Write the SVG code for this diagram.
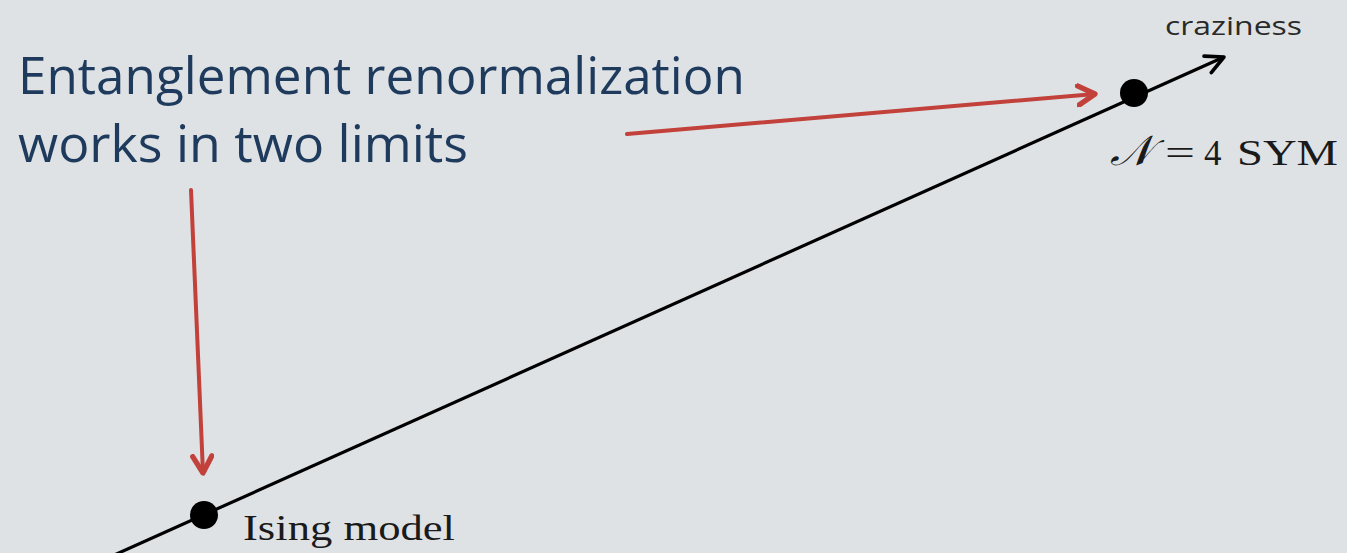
<svg xmlns="http://www.w3.org/2000/svg" width="1347" height="553" viewBox="0 0 1347 553">
<defs>
<style>
.title{font-family:"Open Sans","Liberation Sans",sans-serif;font-size:52px;fill:#1e3a5c}
.serif{font-family:"Liberation Serif","DejaVu Serif",serif;font-size:35px;fill:#1a1a1a}
.small{font-family:"Open Sans","Liberation Sans",sans-serif;font-size:25px;fill:#2a2a2a}
.red{stroke:#c2413b;stroke-width:4;fill:none;stroke-linecap:round}
.axis{stroke:#000;stroke-width:3.2;fill:none}
</style>
<marker id="redhead" viewBox="0 0 10 10" refX="8" refY="5" markerWidth="6" markerHeight="6" orient="auto" markerUnits="strokeWidth">
<path d="M1,1 L8,5 L1,9" fill="none" stroke="#c2413b" stroke-width="2.2" stroke-linecap="round" stroke-linejoin="round"/>
</marker>
<marker id="blackhead" viewBox="0 0 10 10" refX="9" refY="5" markerWidth="7" markerHeight="7" orient="auto" markerUnits="strokeWidth">
<path d="M1,1 L9,5 L1,9" fill="none" stroke="#000" stroke-width="1.6" stroke-linecap="round" stroke-linejoin="round"/>
</marker>
</defs>
<rect width="1347" height="553" fill="#dfe2e5"/>
<g id="connectors">
<line class="axis" x1="112" y1="556" x2="1224" y2="57" marker-end="url(#blackhead)"/>
<line class="red" x1="627" y1="134" x2="1095" y2="94" marker-end="url(#redhead)"/>
<line class="red" x1="191" y1="190" x2="203" y2="473" marker-end="url(#redhead)"/>
</g>
<g id="title">
<text class="title" x="18" y="94" textLength="727" lengthAdjust="spacingAndGlyphs">Entanglement renormalization</text>
<text class="title" x="18" y="162" textLength="450" lengthAdjust="spacingAndGlyphs">works in two limits</text>
</g>
<g id="ising">
<circle cx="204" cy="515" r="14" fill="#000"/>
<text class="serif" x="243" y="540" textLength="212" lengthAdjust="spacingAndGlyphs">Ising model</text>
</g>
<g id="sym">
<circle cx="1134" cy="93" r="14" fill="#000"/>
<text class="serif" y="165" font-size="40"><tspan x="1110" font-style="italic" font-size="42" textLength="42" lengthAdjust="spacingAndGlyphs">𝒩</tspan><tspan x="1165" textLength="30" lengthAdjust="spacingAndGlyphs">=</tspan><tspan x="1204">4</tspan><tspan x="1237" textLength="101" lengthAdjust="spacingAndGlyphs">SYM</tspan></text>
</g>
<g id="craziness">
<text class="small" x="1165" y="35" textLength="137" lengthAdjust="spacingAndGlyphs">craziness</text>
</g>
</svg>
